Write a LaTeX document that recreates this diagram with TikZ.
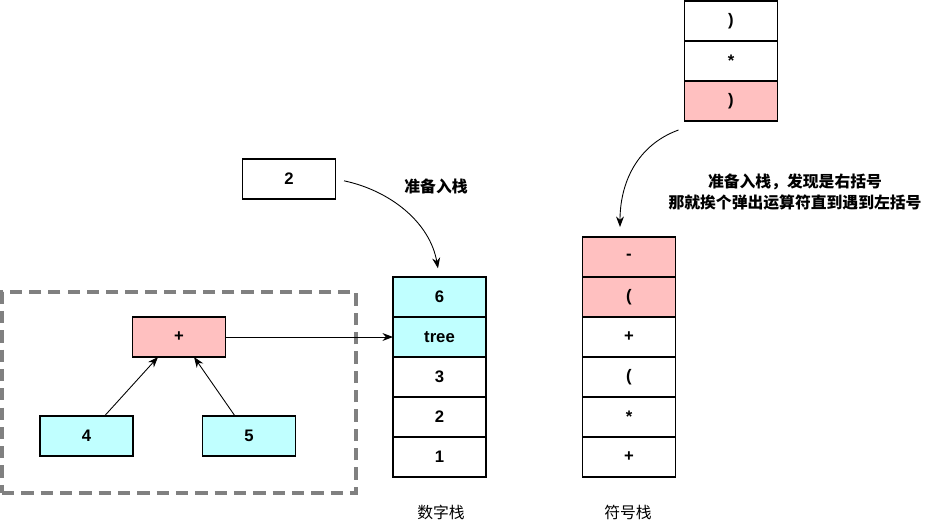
\documentclass[tikz,border=0pt]{standalone}
\usepackage{fontspec}
\setmainfont{Liberation Sans}
\newfontfamily\cjk{Noto Sans CJK SC}
\usetikzlibrary{arrows.meta, positioning, calc}
\definecolor{stPink}{RGB}{255,192,192}
\definecolor{stCyan}{RGB}{192,255,255}
\definecolor{stGray}{RGB}{128,128,128}
\tikzset{
  cell/.style={rectangle, draw=black, line width=0.6pt, fill=white,
    minimum width=1.86cm, minimum height=0.8cm, inner sep=0pt, outer sep=0pt,
    font=\fontsize{9.5}{11}\selectfont\bfseries},
  pinkcell/.style={cell, fill=stPink},
  cyancell/.style={cell, fill=stCyan},
  note/.style={font=\fontsize{9}{12}\selectfont\cjk\bfseries, align=center},
  caption/.style={font=\fontsize{9}{11}\selectfont\cjk},
  arrow/.style={-{Stealth[length=6pt, width=4.5pt]}, line width=0.5pt},
}

\begin{document}
\begin{tikzpicture}[x=0.02cm, y=0.02cm]

\useasboundingbox (0,0) rectangle (930,-528);

%% TREE GROUP
\node[rectangle, draw=stGray, line width=2pt, dash pattern=on 7pt off 4pt,
  minimum width=7.08cm, minimum height=4.02cm] (group) at (179,-392.5) {};
\node[pinkcell] (plus) at (179,-337) {+};
\node[cyancell] (four) at (86.5,-436) {4};
\node[cyancell] (five) at (249,-436) {5};

\draw[arrow] ($(four.north)+(18,0)$) -- ($(plus.south)+(-21,0)$);
\draw[arrow] ($(five.north)+(-14,0)$) -- ($(plus.south)+(15,0)$);

%% NUMBER STACK
\node[cyancell] (num_six)   at (439.5,-297) {6};
\node[cyancell] (num_tree)  at (439.5,-337) {tree};
\node[cell]     (num_three) at (439.5,-377) {3};
\node[cell]     (num_two)   at (439.5,-417) {2};
\node[cell]     (num_one)   at (439.5,-457) {1};
\node[caption]  (num_label) at (441,-512) {数字栈};

\node[cell] (incoming_num) at (289,-179) {2};
\node[note] (push_note) at (436,-186) {准备入栈};

\draw[arrow] (plus.east) -- (num_tree.west);
\draw[arrow, shorten <=5pt, shorten >=5pt] (incoming_num.east) to[out=-12, in=100] (num_six.north);

%% SYMBOL STACK
\node[pinkcell] (sym_minus)  at (629,-257) {-};
\node[pinkcell] (sym_lpar)   at (629,-297) {(};
\node[cell]     (sym_plus)   at (629,-337) {+};
\node[cell]     (sym_lpar2)  at (629,-377) {(};
\node[cell]     (sym_star)   at (629,-417) {*};
\node[cell]     (sym_plus2)  at (629,-457) {+};
\node[caption]  (sym_label)  at (628,-512) {符号栈};

%% INCOMING SYMBOLS
\node[cell]     (in_rpar)  at (731,-21)  {)};
\node[cell]     (in_star)  at (731,-61)  {*};
\node[pinkcell] (in_rpar2) at (731,-101) {)};

\node[note] (pop_note) at (795,-192)
  {准备入栈，发现是右括号\\那就挨个弹出运算符直到遇到左括号};

\draw[arrow] ($(in_rpar2.south west)+(-6,-9)$) to[out=200, in=90] ($(sym_minus.north)+(-9,10)$);

\end{tikzpicture}
\end{document}
